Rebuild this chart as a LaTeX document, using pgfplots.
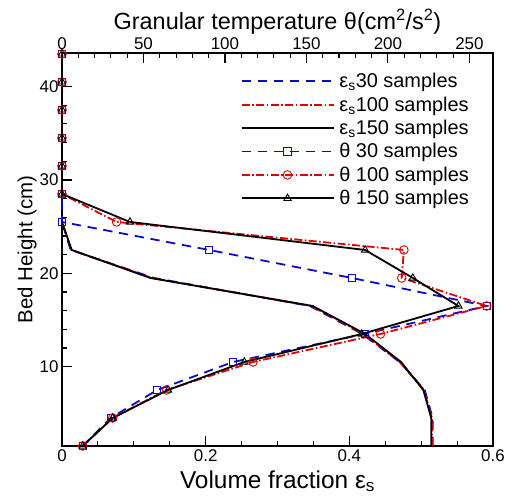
\documentclass[border=0pt]{standalone}
\usepackage{fontspec}
\setmainfont{Liberation Sans}
\usepackage{pgfplots}
\pgfplotsset{compat=1.18}
\definecolor{myblue}{RGB}{10,10,200}
\definecolor{myred}{RGB}{225,0,0}
\tikzset{
  bdash/.style={draw=myblue, line width=1.8bp, dash pattern=on 9.3bp off 6.7bp},
  rdashdot/.style={draw=myred, line width=1.8bp, dash pattern=on 8bp off 2.5bp on 1.5bp off 2.5bp},
  ksolid/.style={draw=black, line width=1.8bp},
  bmark/.style={myblue, solid, line width=0.9bp, mark=square, mark size=3.6bp},
  rmark/.style={myred, solid, line width=0.9bp, mark=o, mark size=4.3bp},
  kmark/.style={black, solid, line width=0.9bp, mark=triangle, mark size=4.2bp},
}
\pgfplotstableread{
y     e30    e100   e150
1.5   0.516  0.515  0.514
4.5   0.516  0.515  0.514
7.5   0.505  0.504  0.503
10.5  0.470  0.470  0.472
13.5  0.418  0.420  0.422
16.5  0.345  0.347  0.349
19.5  0.128  0.125  0.123
22.5  0.012  0.013  0.0135
25.5  0      0      0
28.5  0      0      0
31.5  0      0      0
34.5  0      0      0
37.5  0      0      0
40.5  0      0      0
43.5  0      0      0
}\epsdata
\pgfplotstableread{
y     t30    t100   t150
1.5   12.7   12.7   12.7
4.5   29.8   31.1   31.1
7.5   58.4   64.1   65.1
10.5  105.0  117.2  111.9
13.5  185.7  195.5  184.0
16.5  260.6  260.6  243.3
19.5  177.9  208.5  215.3
22.5  90.3   209.8  186.0
25.5  0      33.5   41.7
28.5  0      0      0
31.5  0      0      0
34.5  0      0      0
37.5  0      0      0
40.5  0      0      0
43.5  0      0      0
}\thetadata
\begin{document}
\begin{tikzpicture}
\pgfplotsset{
 every axis/.append style={
  scale only axis, width=431bp, height=393bp,
  ymin=1.5, ymax=43.6,
  tick align=inside,
  major tick length=10.5bp, minor tick length=5.5bp,
  axis line style={line width=1.8bp},
  every tick/.style={black, line width=1.1bp},
  tick label style={font=\fontsize{17}{17}\selectfont},
  /pgf/number format/assume math mode=true,
 },
}
\begin{axis}[
 xmin=0, xmax=0.6,
 xtick={0,0.2,0.4,0.6}, minor x tick num=3,
 ytick={10,20,30,40}, minor y tick num=4,
 xtick pos=bottom, ytick pos=left,
 xticklabel style={/pgf/number format/fixed},
 xlabel={Volume fraction ε\textsubscript{s}},
 ylabel={Bed Height (cm)},
 xlabel style={font=\fontsize{24.5}{24.5}\selectfont, at={(axis description cs:0.5,-0.107)}, anchor=base},
 ylabel style={font=\fontsize{20.5}{20.5}\selectfont, at={(axis description cs:-0.081,0.5)}, anchor=center},
]
\addplot[bdash] table[x=e30,y=y] {\epsdata};
\addplot[rdashdot] table[x=e100,y=y] {\epsdata};
\addplot[ksolid] table[x=e150,y=y] {\epsdata};
\end{axis}
\begin{axis}[
 xmin=0, xmax=264.5,
 axis x line*=top, axis y line=none,
 xtick={0,50,100,150,200,250}, minor x tick num=4,
 xlabel={Granular temperature θ(cm\textsuperscript{2}/s\textsuperscript{2})},
 xlabel style={font=\fontsize{23.5}{23.5}\selectfont, at={(axis description cs:0.5,1.0595)}, anchor=base},
 clip=false,
 legend cell align=left,
 legend style={at={(0.407,0.959)}, anchor=north west, draw=none, fill=none,
   font=\fontsize{20}{20}\selectfont, row sep=3.5bp,
   /tikz/every odd column/.append style={column sep=3bp}},
 legend image code/.code={\begin{scope}\draw[#1] (0bp,0bp) -- (92bp,0bp);\end{scope}},
]
\addlegendimage{bdash}
\addlegendentry{ε\textsubscript{s}30 samples}
\addlegendimage{rdashdot}
\addlegendentry{ε\textsubscript{s}100 samples}
\addlegendimage{ksolid}
\addlegendentry{ε\textsubscript{s}150 samples}
\addlegendimage{legend image code/.code={\begin{scope}\draw[bdash] (0bp,0bp) -- (92bp,0bp);\end{scope}\begin{scope}\draw[draw=myblue, solid, line width=0.9bp] (42.4bp,-3.6bp) rectangle (49.6bp,3.6bp);\end{scope}}}
\addlegendentry{θ 30 samples}
\addlegendimage{legend image code/.code={\begin{scope}\draw[rdashdot] (0bp,0bp) -- (92bp,0bp);\end{scope}\begin{scope}\draw[draw=myred, solid, line width=0.9bp] (46bp,0bp) circle[radius=4.3bp];\end{scope}}}
\addlegendentry{θ 100 samples}
\addlegendimage{legend image code/.code={\begin{scope}\draw[ksolid] (0bp,0bp) -- (92bp,0bp);\end{scope}\begin{scope}\draw[draw=black, solid, line width=0.9bp] (46bp,4.2bp) -- (42.36bp,-2.1bp) -- (49.64bp,-2.1bp) -- cycle;\end{scope}}}
\addlegendentry{θ 150 samples}
\addplot[bdash, forget plot] table[x=t30,y=y] {\thetadata};
\addplot[rdashdot, forget plot] table[x=t100,y=y] {\thetadata};
\addplot[ksolid, forget plot] table[x=t150,y=y] {\thetadata};
\addplot[only marks, bmark, forget plot] table[x=t30,y=y] {\thetadata};
\addplot[only marks, rmark, forget plot] table[x=t100,y=y] {\thetadata};
\addplot[only marks, kmark, forget plot] table[x=t150,y=y] {\thetadata};
\end{axis}
\pgfresetboundingbox
\path[use as bounding box] (-62bp,-56bp) rectangle (447bp,446bp);
\end{tikzpicture}
\end{document}
